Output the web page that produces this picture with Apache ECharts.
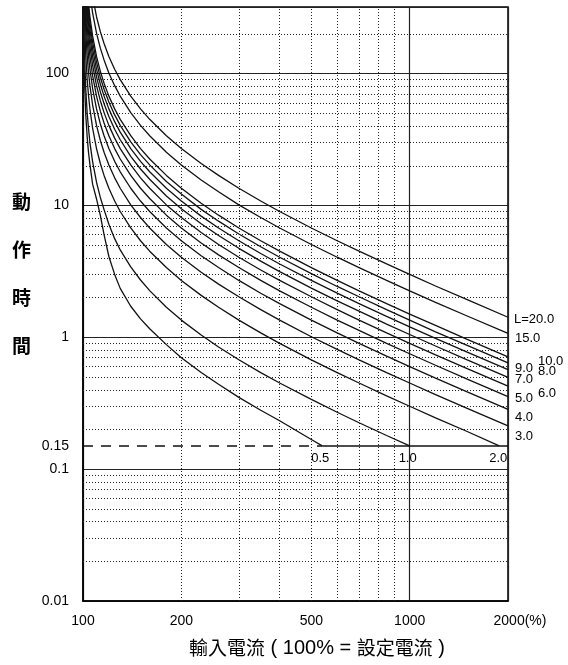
<!DOCTYPE html>
<html><head><meta charset="utf-8">
<script src="https://cdn.jsdelivr.net/npm/echarts@6/dist/echarts.min.js"></script>
<style>html,body{margin:0;padding:0;background:#fff}#c{width:568px;height:665px}</style>
</head><body><div id="c"></div>
<script>
// ---- data (input current in %, operating time in s) ----
const current = [100.2, 100.5, 101, 102, 103, 104, 105, 107, 110, 113, 116, 120, 125, 130, 140, 150, 160, 180, 200, 230, 260, 300, 350, 400, 500, 600, 700, 850, 1000, 1200, 1500, 2000];
const tL20 = [13500, 5400, 2700, 1350, 900, 675, 540, 386, 270, 208, 169, 135, 108, 90, 67.5, 54, 45, 33.8, 27, 20.8, 16.9, 13.5, 10.8, 9.0, 6.75, 5.4, 4.5, 3.6, 3.0, 2.45, 1.93, 1.42];
const tL15 = [10100, 4050, 2030, 1010, 675, 506, 405, 289, 203, 156, 127, 101, 81, 67.5, 50.6, 40.5, 33.8, 25.3, 20.3, 15.6, 12.7, 10.1, 8.1, 6.75, 5.06, 4.05, 3.38, 2.7, 2.25, 1.84, 1.45, 1.07];
const tL10 = [6750, 2700, 1350, 675, 450, 338, 270, 193, 135, 104, 84.4, 67.5, 54, 45, 33.8, 27, 22.5, 16.9, 13.5, 10.4, 8.44, 6.75, 5.4, 4.5, 3.38, 2.7, 2.25, 1.8, 1.5, 1.23, 0.964, 0.711];
const tL9 = [6080, 2430, 1220, 608, 405, 304, 243, 174, 122, 93.4, 76, 60.8, 48.6, 40.5, 30.4, 24.3, 20.3, 15.2, 12.2, 9.34, 7.6, 6.08, 4.86, 4.05, 3.04, 2.43, 2.03, 1.62, 1.35, 1.10, 0.868, 0.64];
const tL8 = [5400, 2160, 1080, 540, 360, 270, 216, 154, 108, 83, 67.5, 54, 43.2, 36, 27, 21.6, 18, 13.5, 10.8, 8.3, 6.75, 5.4, 4.32, 3.6, 2.7, 2.16, 1.8, 1.44, 1.2, 0.982, 0.771, 0.569];
const tL7 = [4730, 1890, 945, 473, 315, 236, 189, 135, 94.5, 72.7, 59.1, 47.3, 37.8, 31.5, 23.6, 18.9, 15.8, 11.8, 9.45, 7.27, 5.91, 4.73, 3.78, 3.15, 2.36, 1.89, 1.58, 1.26, 1.05, 0.859, 0.675, 0.497];
const tL6 = [4050, 1620, 810, 405, 270, 203, 162, 116, 81, 62.3, 50.6, 40.5, 32.4, 27, 20.3, 16.2, 13.5, 10.1, 8.1, 6.23, 5.06, 4.05, 3.24, 2.7, 2.03, 1.62, 1.35, 1.08, 0.9, 0.736, 0.578, 0.426];
const tL5 = [3380, 1350, 675, 338, 225, 169, 135, 96.4, 67.5, 51.9, 42.2, 33.8, 27, 22.5, 16.9, 13.5, 11.3, 8.44, 6.75, 5.19, 4.22, 3.38, 2.7, 2.25, 1.69, 1.35, 1.13, 0.9, 0.75, 0.614, 0.482, 0.355];
const tL4 = [2700, 1080, 540, 270, 180, 135, 108, 77.2, 54, 41.5, 33.8, 27, 21.6, 18, 13.5, 10.8, 9.0, 6.75, 5.4, 4.15, 3.38, 2.7, 2.16, 1.8, 1.35, 1.08, 0.9, 0.72, 0.6, 0.491, 0.386, 0.284];
const tL3 = [2030, 810, 405, 203, 135, 101, 81, 57.9, 40.5, 31.1, 25.3, 20.3, 16.2, 13.5, 10.1, 8.1, 6.75, 5.06, 4.05, 3.11, 2.53, 2.03, 1.62, 1.35, 1.01, 0.81, 0.675, 0.54, 0.45, 0.368, 0.289, 0.213];
const tL2 = [1350, 540, 270, 135, 90, 67.5, 54, 38.6, 27, 20.8, 16.9, 13.5, 10.8, 9.0, 6.75, 5.4, 4.5, 3.38, 2.7, 2.08, 1.69, 1.35, 1.08, 0.9, 0.675, 0.54, 0.45, 0.36, 0.3, 0.245, 0.193, null];
const tL1 = [700, 290, 150, 75, 50, 38, 30, 21.5, 15, 11.5, 9.3, 7.2, 5.6, 4.6, 3.42, 2.72, 2.26, 1.69, 1.35, 1.04, 0.844, 0.675, 0.54, 0.45, 0.338, 0.27, 0.225, 0.18, null, null, null, null];
const tL05 = [400, 170, 90, 48, 33, 25, 20.5, 14.5, 11.2, 8.4, 6.0, 4.1, 3.0, 2.35, 1.72, 1.38, 1.16, 0.88, 0.70, 0.54, 0.44, 0.35, 0.28, 0.233, 0.168, null, null, null, null, null, null, null];

const curveLabels = ['L=20.0', '15.0', '10.0', '9.0', '8.0', '7.0', '6.0', '5.0', '4.0', '3.0', '2.0', '1.0', '0.5'];
const curveValues = [tL20, tL15, tL10, tL9, tL8, tL7, tL6, tL5, tL4, tL3, tL2, tL1, tL05];
// current (%) where a curve meets the 0.15 s floor (null = does not reach it)
const floorHit = [null, null, null, null, null, null, null, null, null, null, 1880, 1000, 540];
const floorTime = 0.15;

const yTickValues = [100, 10, 1, 0.15, 0.1, 0.01];
const yTickText = ['100', '10', '1', '0.15', '0.1', '0.01'];
const xTickValues = [100, 200, 500, 1000, 2000];
const xTickText = ['100', '200', '500', '1000', '2000(%)'];
const yMinorGrid = [0.02, 0.03, 0.04, 0.05, 0.06, 0.07, 0.08, 0.09, 0.2, 0.3, 0.4, 0.5, 0.6, 0.7, 0.8, 0.9, 2, 3, 4, 5, 6, 7, 8, 9, 20, 30, 40, 50, 60, 70, 80, 90, 200];
const xMinorGrid = [200, 300, 400, 500, 600, 700, 800, 900];

// ---- styles ----
const FONT = '"Liberation Sans", Arial, sans-serif';
const CJK = '"Noto Sans CJK TC", "Noto Sans CJK JP", sans-serif';
const labelOffsets = [[0, 2], [1, 5], [24, 5], [1, 6], [24, 2], [1, 2], [24, 7], [1, 2], [1, 8], [1, 11]];
const floorLabelOffsets = [[-1, 0], [-2, 0], [-2, 0]];
const NOLINE = {color: 'rgba(0,0,0,0)', width: 0};

const chart = echarts.init(document.getElementById('c'), null, {renderer: 'canvas'});

function pairs(vals) {
  const out = [];
  current.forEach((c, i) => { if (vals[i] != null) out.push([c, vals[i]]); });
  return out;
}

const series = [];

// minor dotted grid
series.push({
  type: 'line', data: [], silent: true, z: 1,
  markLine: {
    silent: true, symbol: ['none', 'none'], animation: false,
    label: {show: false},
    lineStyle: {color: '#222', width: 1, type: [1, 2]},
    data: yMinorGrid.map(v => ({yAxis: v})).concat(xMinorGrid.map(v => ({xAxis: v})))
  }
});

// tick labels carried by invisible marker lines
series.push({
  type: 'line', data: [], silent: true, z: 3,
  markLine: {
    silent: true, symbol: ['none', 'none'], animation: false,
    lineStyle: NOLINE,
    label: {show: true, position: 'start', distance: 14, fontSize: 14, color: '#000', fontFamily: FONT},
    data: yTickValues.map((v, i) => ({
      yAxis: v, lineStyle: NOLINE,
      label: {show: true, position: 'start', distance: 14, formatter: yTickText[i],
        fontSize: 14, color: '#000', fontFamily: FONT,
        padding: v === 0.15 ? [0, 0, 0, 0] : (v === 1 ? [0, 0, 5, 0] : [0, 0, 9, 0])}
    })).concat(xTickValues.map((v, i) => ({
      xAxis: v, lineStyle: NOLINE,
      label: {show: true, position: 'start', distance: 13,
        formatter: v === 2000 ? '{g|}' + xTickText[i] : xTickText[i],
        fontSize: 14, color: '#000', fontFamily: FONT,
        rich: {g: {width: 24}}}
    })))
  }
});

// 0.15 s floor line: dashed up to where the 0.5 curve meets it, solid after
series.push({
  type: 'line', data: [], silent: true, z: 2,
  markLine: {
    silent: true, symbol: ['none', 'none'], animation: false,
    label: {show: false},
    data: [
      [{coord: [xTickValues[0], floorTime], lineStyle: {type: [10, 8], width: 1.5, color: '#111'}},
       {coord: [floorHit[12], floorTime]}],
      [{coord: [floorHit[12], floorTime], lineStyle: {type: 'solid', width: 1.5, color: '#111'}},
       {coord: [xTickValues[xTickValues.length - 1], floorTime]}]
    ]
  }
});

curveValues.forEach((vals, k) => {
  const data = pairs(vals);
  const hit = floorHit[k];
  if (hit != null) data.push([hit, floorTime]);
  const last = data[data.length - 1];
  const isFloor = hit != null;
  const mp = {
    symbol: 'circle', symbolSize: 0, silent: true, animation: false,
    data: [{coord: last, value: curveLabels[k]}],
    label: {show: true, position: isFloor ? 'bottom' : 'right', distance: 6,
      offset: isFloor ? floorLabelOffsets[k - 10] : labelOffsets[k],
      formatter: curveLabels[k], fontSize: 13, color: '#000', fontFamily: FONT}
  };
  series.push({
    type: 'line', name: curveLabels[k], data: data,
    symbol: 'none', showSymbol: false, smooth: false,
    clip: true, silent: true, z: 5, animation: false,
    lineStyle: {color: '#111', width: 1.3},
    markPoint: mp
  });
});

chart.setOption({
  backgroundColor: '#fff',
  animation: false,
  grid: {left: 83, right: 60, top: 7, bottom: 64, show: true, borderColor: '#000', borderWidth: 1.5, backgroundColor: '#fff'},
  xAxis: {
    type: 'log', logBase: 10, min: 100, max: 2000,
    axisLine: {show: true, lineStyle: {color: '#000', width: 1.5}},
    axisTick: {show: false},
    axisLabel: {show: false},
    splitLine: {show: true, lineStyle: {color: '#222', width: 1.2}},
    name: '{c|輸入電流}{l| ( 100% = }{c|設定電流}{l| )}', nameLocation: 'middle', nameGap: 37,
    nameTextStyle: {padding: [0, 0, 0, 43],
      rich: {c: {fontFamily: CJK, fontSize: 19, color: '#000'},
             l: {fontFamily: FONT, fontSize: 20, color: '#000'}}}
  },
  yAxis: {
    type: 'log', logBase: 10, min: 0.01, max: 320,
    axisLine: {show: true, lineStyle: {color: '#000', width: 1.5}},
    axisTick: {show: false},
    axisLabel: {show: false},
    splitLine: {show: true, lineStyle: {color: '#222', width: 1.2}},
    name: '{a|動}\n{a|作}\n{a|時}\n{a|間}\n{p|}', nameLocation: 'middle', nameRotate: 0, nameGap: 52,
    nameTextStyle: {
      rich: {a: {fontFamily: CJK, fontSize: 19, fontWeight: 'bold', color: '#000', lineHeight: 48},
             p: {height: 60, lineHeight: 60}}}
  },
  series: series
});
</script>
</body></html>
